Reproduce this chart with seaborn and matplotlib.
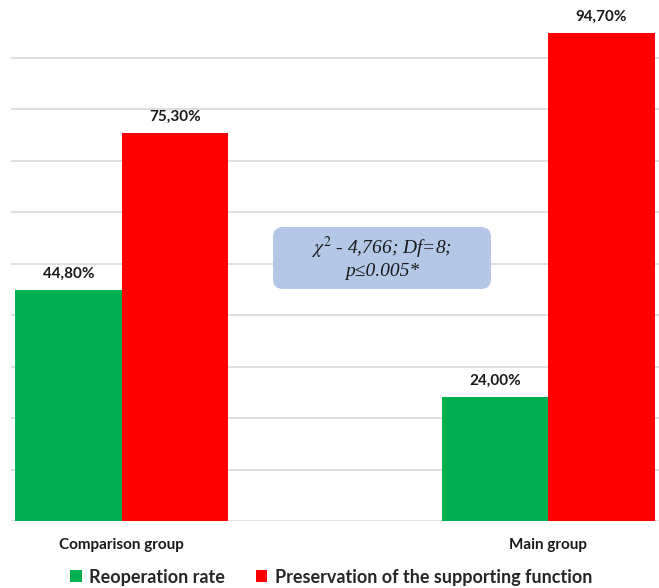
import matplotlib
matplotlib.use("Agg")
import matplotlib.pyplot as plt
import seaborn as sns
import pandas as pd
from matplotlib.patches import FancyBboxPatch, Patch

# Chart data
groups = ["Comparison group", "Main group"]
series = ["Reoperation rate", "Preservation of the supporting function"]
reoperation = [44.8, 24.0]
preservation = [75.3, 94.7]
colors = ["#00B050", "#FF0000"]
grid_ticks = [0, 10, 20, 30, 40, 50, 60, 70, 80, 90]
stat_text = "$\\chi^{2}$ - 4,766; Df=8;\np≤0.005*"

df = pd.DataFrame({
    "group": groups * 2,
    "series": [series[0]] * len(groups) + [series[1]] * len(groups),
    "value": reoperation + preservation,
})

sns.set_theme(style="white")
plt.rcParams["font.family"] = ["Lato", "DejaVu Sans"]
plt.rcParams["mathtext.fontset"] = "stix"

W, H = 659, 588
fig = plt.figure(figsize=(W / 100, H / 100), dpi=100)
ax = fig.add_axes([11 / W, (H - 521) / H, 648 / W, 521 / H])

sns.barplot(data=df, x="group", y="value", hue="series", palette=colors,
            width=0.5, saturation=1, linewidth=0, legend=False, ax=ax)

ax.set_xlim(-0.26, 1.26)
ax.set_ylim(0, 101.2)
ax.set_yticks(grid_ticks)
ax.yaxis.grid(True, color="#d9d9d9", linewidth=1.2)
ax.set_axisbelow(True)
ax.tick_params(axis="y", left=False, labelleft=False)
ax.tick_params(axis="x", length=0, pad=12)
for lbl in ax.get_xticklabels():
    lbl.set_fontweight("bold")
    lbl.set_fontsize(11)
    lbl.set_color("#1a1a1a")
ax.set_xlabel("")
ax.set_ylabel("")
for s in ax.spines.values():
    s.set_visible(False)

# Value labels above each bar
for cont in ax.containers:
    labels = [f"{v:.2f}".replace(".", ",") + "%" for v in cont.datavalues]
    ax.bar_label(cont, labels=labels, padding=7, fontsize=11,
                 fontweight="bold", color="#1a1a1a")

# Statistics box
box = FancyBboxPatch((2.73, (H - 289) / 100), 2.18, 0.62,
                     boxstyle="round,pad=0,rounding_size=0.1",
                     transform=fig.dpi_scale_trans, facecolor="#B4C7E7",
                     edgecolor="none", zorder=5)
fig.patches.append(box)
fig.text(3.82 / (W / 100), (H - 257) / H, stat_text, ha="center", va="center",
         family="Liberation Serif", style="italic", fontsize=14,
         linespacing=1.15, color="#1a1a1a", zorder=6)

# Legend
handles = [Patch(facecolor=c, edgecolor="none") for c in colors]
fig.legend(handles, series, loc="center", bbox_to_anchor=(331 / W, 1 - 577 / H),
           ncol=2, frameon=False, handlelength=0.65, handleheight=0.65,
           handletextpad=0.4, columnspacing=1.7,
           prop={"family": "Lato", "weight": "bold", "size": 13})

fig.savefig("out.png", dpi=100)
